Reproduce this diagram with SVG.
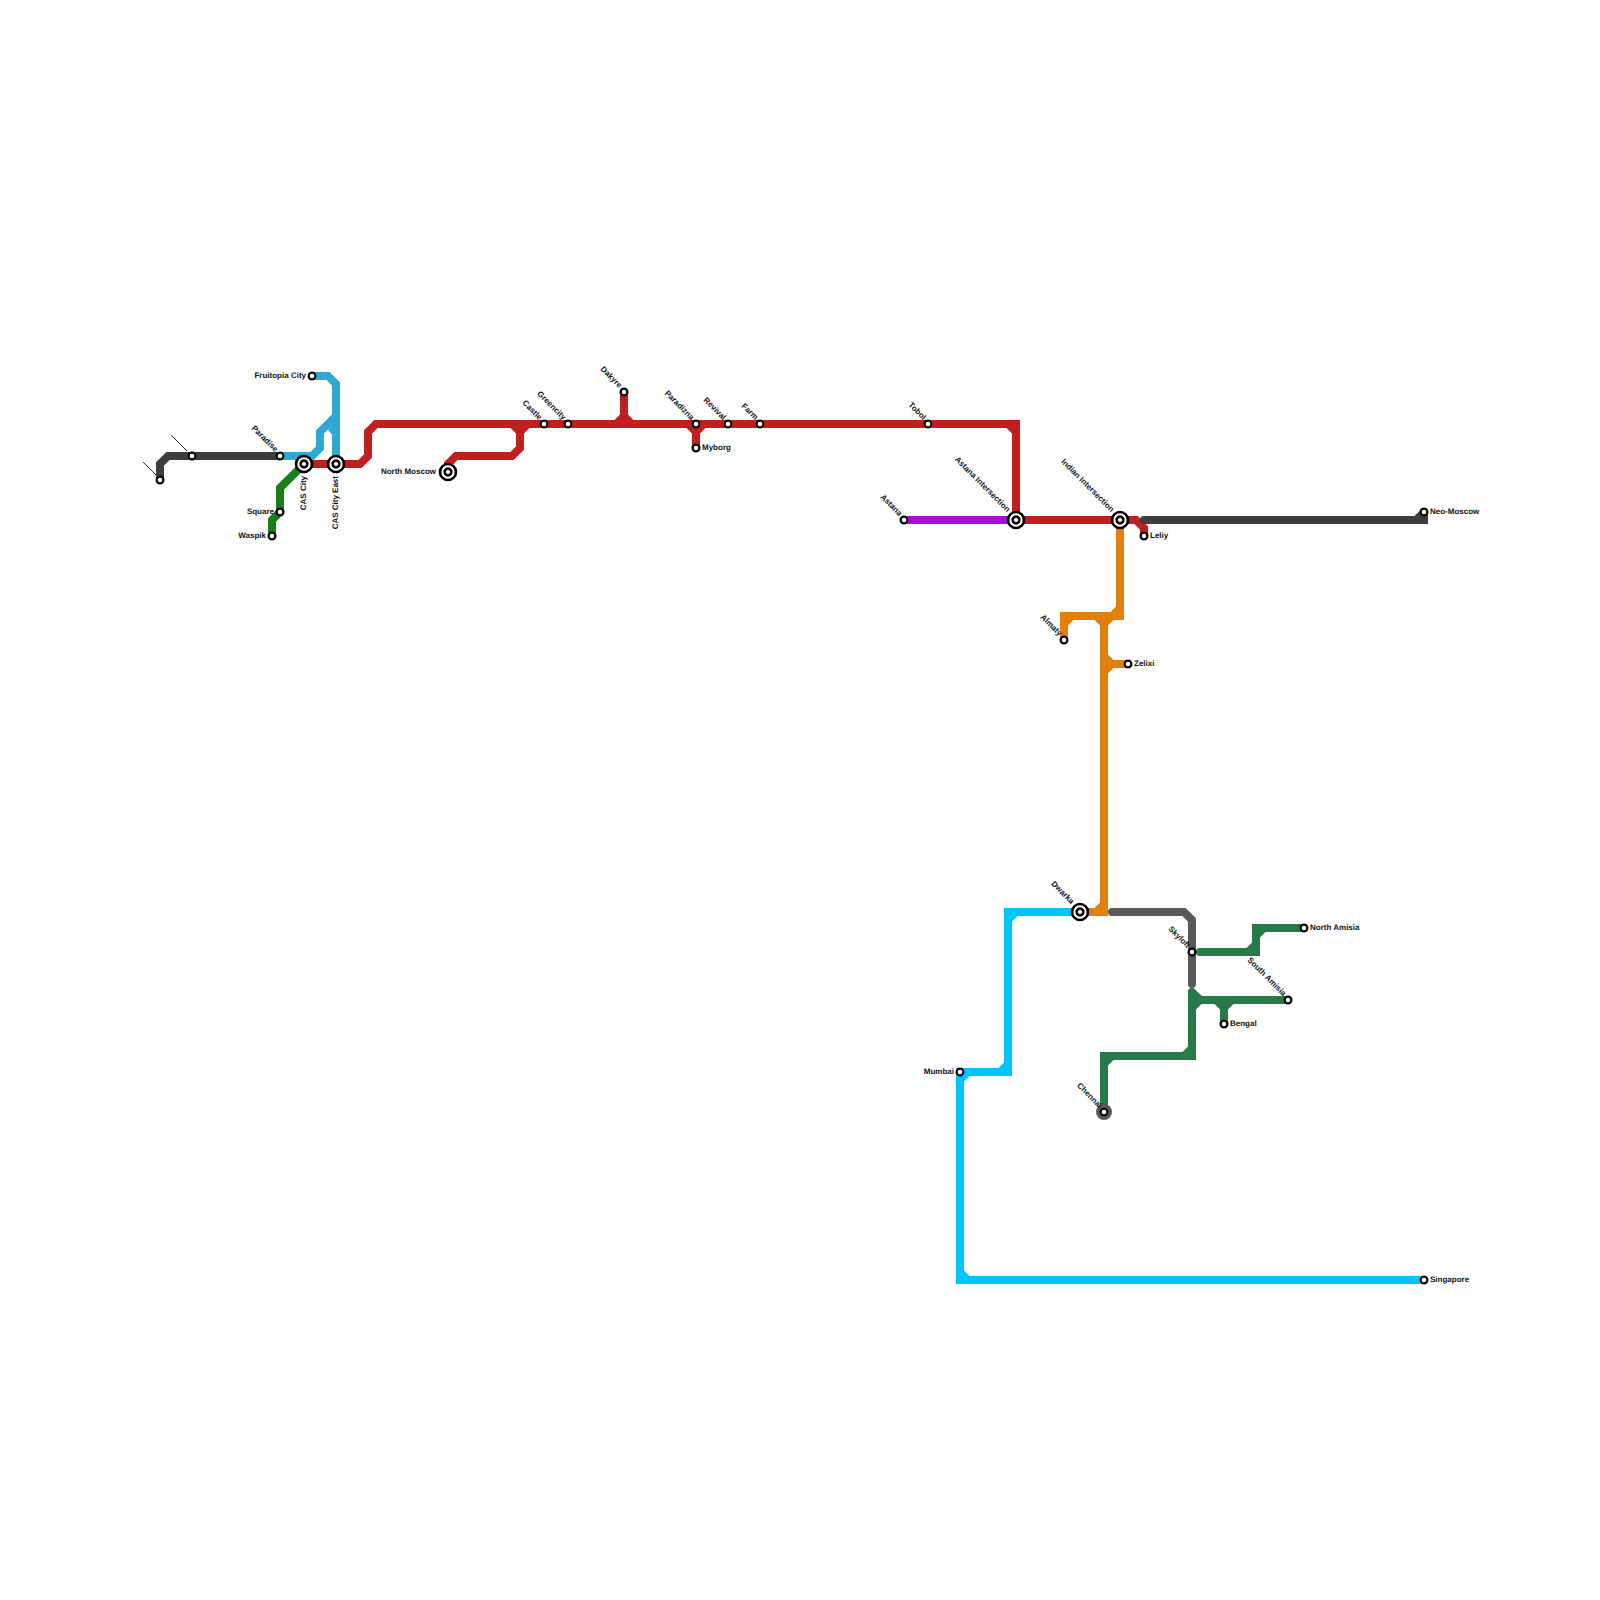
<svg xmlns="http://www.w3.org/2000/svg" width="1600" height="1600" viewBox="0 0 1600 1600">
<style>
.l{fill:none;stroke-width:8;stroke-linejoin:miter}
.c{stroke-linecap:round}
.f{stroke:none}
.red{stroke:#c01f1f}.redf{fill:#c01f1f}
.blue{stroke:#2fa9d3}.bluef{fill:#2fa9d3}
.dark{stroke:#3d3d3d}
.grey{stroke:#5a5a5a}
.lime{stroke:#1a7f1a}
.purple{stroke:#a90fd6}
.orange{stroke:#e2800d}.orangef{fill:#e2800d}
.cyan{stroke:#00c6ff}.cyanf{fill:#00c6ff}
.green{stroke:#2a7a49}.greenf{fill:#2a7a49}
.s{fill:#fff;stroke:#000;stroke-width:2.2}
.i{fill:#fff;stroke:#000;stroke-width:2.6}
.o{fill:#fff;stroke:#000;stroke-width:2.6}
.t{font-family:"Liberation Sans",Arial,sans-serif;font-size:8px;font-weight:bold;fill:#111;text-rendering:geometricPrecision}
.e{text-anchor:end}
.lead{stroke:#333;stroke-width:1;fill:none}
</style>
<rect width="1600" height="1600" fill="#fff"/>
<g id="connectors">
<path class="l cyan" d="M1080 912H1008V1072H960V1280H1424"/>
<path class="f cyanf" d="M1012 916h5.5L1012 921.5ZM1004 1068h-5.5L1004 1062.5ZM964 1076h5.5L964 1081.5ZM964 1276h5.5L964 1270.5Z"/>
<path class="l orange" d="M1064 640V616H1120V520"/>
<path class="l orange" d="M1080 912H1104V616M1104 664H1128"/>
<path class="f orangef" d="M1068 620h5.5L1068 625.5ZM1116 612h-5.5L1116 606.5ZM1100 620h-5.5L1100 625.5ZM1108 620h5.5L1108 625.5ZM1108 660h5.5L1108 654.5ZM1108 668h5.5L1108 673.5ZM1100 908h-5.5L1100 902.5Z"/>
<path class="l blue" d="M312 376H328L336 384V464"/>
<path class="l blue" d="M280 456H312L320 448V432L336 416"/>
<path class="f bluef" d="M332 425V434.5L328 430Z"/>
<path class="l lime" d="M304 464L280 488V512L272 520V536"/>
<path class="l purple" d="M904 520H1016"/>
<path class="l red" d="M304 464H360L368 456V432L376 424H1016V520"/>
<path class="l red" d="M448 472V464L456 456H512L520 448V424M624 392V424M696 424V448M1016 520H1136L1144 528V536"/>
<path class="f redf" d="M516 428h-5.5L516 433.5ZM524 428h5.5L524 433.5ZM620 420h-5.5L620 414.5ZM628 420h5.5L628 414.5ZM692 428h-5.5L692 433.5ZM700 428h5.5L700 433.5ZM1012 428h-5.5L1012 433.5Z"/>
<path class="l dark" d="M160 480V464L168 456H280"/>
<path class="l dark c" d="M1144 520H1424V512"/>
<path class="f" fill="#3d3d3d" d="M1420 516h-5.5L1420 510.5Z"/>
<path class="l grey c" d="M1112 912H1184L1192 920V984"/>
<path class="l green c" d="M1200 952H1256V928H1304"/>
<path class="l green" d="M1288 1000H1192V1056H1104V1112M1224 1000V1024"/>
<path class="l green" d="M1192 1000V990"/>
<path class="f greenf" d="M1188 990L1192 986.5L1196 990.5L1202 996H1188ZM1196 1004h5.5L1196 1009.5ZM1220 1004h-5.5L1220 1009.5ZM1228 1004h5.5L1228 1009.5ZM1188 1052h-5.5L1188 1046.5ZM1108 1060h5.5L1108 1065.5ZM1252 948h-5.5L1252 942.5ZM1260 932h5.5L1260 937.5Z"/>
<path class="lead" d="M171 435L187 451M143 462L156 475"/>
</g>
<g id="n-a"><circle class="s" cx="160" cy="480" r="3.4"/></g>
<g id="n-b"><circle class="s" cx="192" cy="456" r="3.4"/></g>
<g id="paradise"><circle class="s" cx="280" cy="456" r="3.4"/><text class="t e" transform="translate(276 452) rotate(45)" x="-0.5" y="1">Paradise</text></g>
<g id="fruitopia"><circle class="s" cx="312" cy="376" r="3.4"/><text class="t e" x="306" y="378">Fruitopia City</text></g>
<g id="square"><circle class="s" cx="280" cy="512" r="3.4"/><text class="t e" x="274" y="514">Square</text></g>
<g id="waspik"><circle class="s" cx="272" cy="536" r="3.4"/><text class="t e" x="266" y="538">Waspik</text></g>
<g id="cas-city"><circle class="o" cx="304" cy="464" r="8"/><circle class="i" cx="304" cy="464" r="3.4"/><text class="t e" transform="translate(306 476) rotate(-90)">CAS City</text></g>
<g id="cas-city-east"><circle class="o" cx="336" cy="464" r="8"/><circle class="i" cx="336" cy="464" r="3.4"/><text class="t e" transform="translate(338 476) rotate(-90)">CAS City East</text></g>
<g id="north-moscow"><circle class="o" cx="448" cy="472" r="8"/><circle class="i" cx="448" cy="472" r="3.4"/><text class="t e" x="436" y="474">North Moscow</text></g>
<g id="castle"><circle class="s" cx="544" cy="424" r="3.4"/><text class="t e" transform="translate(540 420) rotate(45)" x="-0.5" y="1">Castle</text></g>
<g id="greencity"><circle class="s" cx="568" cy="424" r="3.4"/><text class="t e" transform="translate(564 420) rotate(45)" x="-0.5" y="1">Greencity</text></g>
<g id="dakyre"><circle class="s" cx="624" cy="392" r="3.4"/><text class="t e" transform="translate(620 388) rotate(45)" x="-0.5" y="1">Dakyre</text></g>
<g id="paradizna"><circle class="s" cx="696" cy="424" r="3.4"/><text class="t e" transform="translate(692 420) rotate(45)" x="-0.5" y="1">Paradizna</text></g>
<g id="myborg"><circle class="s" cx="696" cy="448" r="3.4"/><text class="t" x="702" y="450">Myborg</text></g>
<g id="revival"><circle class="s" cx="728" cy="424" r="3.4"/><text class="t e" transform="translate(724 420) rotate(45)" x="-0.5" y="1">Revival</text></g>
<g id="farm"><circle class="s" cx="760" cy="424" r="3.4"/><text class="t e" transform="translate(756 420) rotate(45)" x="-0.5" y="1">Farm</text></g>
<g id="tobol"><circle class="s" cx="928" cy="424" r="3.4"/><text class="t e" transform="translate(924 420) rotate(45)" x="-0.5" y="1">Tobol</text></g>
<g id="astana"><circle class="s" cx="904" cy="520" r="3.4"/><text class="t e" transform="translate(900 516) rotate(45)" x="-0.5" y="1">Astana</text></g>
<g id="astana-intersection"><circle class="o" cx="1016" cy="520" r="8"/><circle class="i" cx="1016" cy="520" r="3.4"/><text class="t e" transform="translate(1008 512) rotate(45)" x="-0.5" y="1">Astana Intersection</text></g>
<g id="indian-intersection"><circle class="o" cx="1120" cy="520" r="8"/><circle class="i" cx="1120" cy="520" r="3.4"/><text class="t e" transform="translate(1112 512) rotate(45)" x="-0.5" y="1">Indian Intersection</text></g>
<g id="leliy"><circle class="s" cx="1144" cy="536" r="3.4"/><text class="t" x="1150" y="538">Leliy</text></g>
<g id="neo-moscow"><circle class="s" cx="1424" cy="512" r="3.4"/><text class="t" x="1430" y="514">Neo-Moscow</text></g>
<g id="almaty"><circle class="s" cx="1064" cy="640" r="3.4"/><text class="t e" transform="translate(1060 636) rotate(45)" x="-0.5" y="1">Almaty</text></g>
<g id="zelixi"><circle class="s" cx="1128" cy="664" r="3.4"/><text class="t" x="1134" y="666">Zelixi</text></g>
<g id="dwarka"><circle class="o" cx="1080" cy="912" r="8"/><circle class="i" cx="1080" cy="912" r="3.4"/><text class="t e" transform="translate(1072 904) rotate(45)" x="-0.5" y="1">Dwarka</text></g>
<g id="skyloft"><circle class="s" cx="1192" cy="952" r="3.4"/><text class="t e" transform="translate(1188 948) rotate(45)" x="-0.5" y="1">Skyloft</text></g>
<g id="north-amisia"><circle class="s" cx="1304" cy="928" r="3.4"/><text class="t" x="1310" y="930">North Amisia</text></g>
<g id="south-amisia"><circle class="s" cx="1288" cy="1000" r="3.4"/><text class="t e" transform="translate(1284 996) rotate(45)" x="-0.5" y="1">South Amisia</text></g>
<g id="bengal"><circle class="s" cx="1224" cy="1024" r="3.4"/><text class="t" x="1230" y="1026">Bengal</text></g>
<g id="mumbai"><circle class="s" cx="960" cy="1072" r="3.4"/><text class="t e" x="954" y="1074">Mumbai</text></g>
<g id="chennai"><circle cx="1104" cy="1112" r="8" fill="#5a5a5a"/><circle class="s" cx="1104" cy="1112" r="3.4"/><text class="t e" transform="translate(1100 1108) rotate(45)" x="-0.5" y="1">Chennai</text></g>
<g id="singapore"><circle class="s" cx="1424" cy="1280" r="3.4"/><text class="t" x="1430" y="1282">Singapore</text></g>
</svg>
